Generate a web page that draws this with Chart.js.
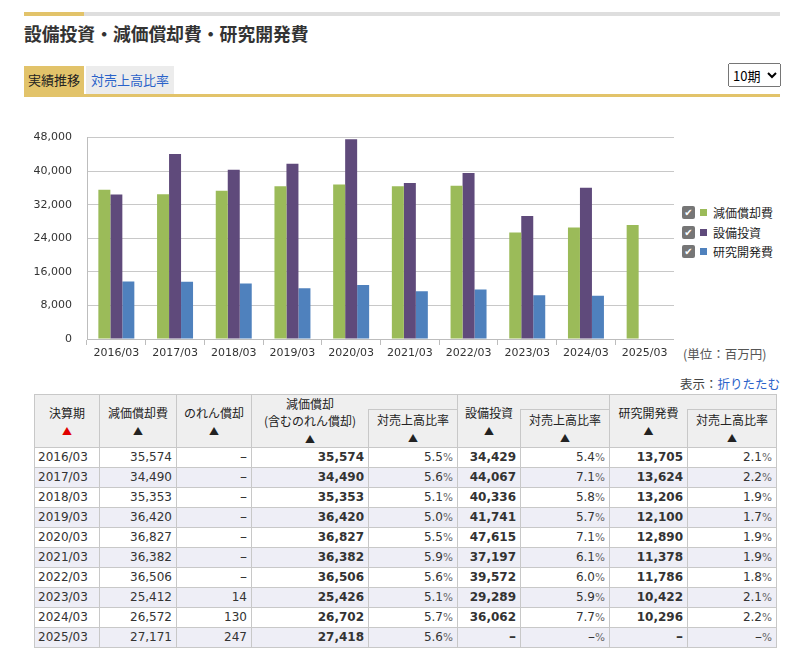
<!DOCTYPE html>
<html lang="ja">
<head>
<meta charset="utf-8">
<script src="https://cdn.jsdelivr.net/npm/chart.js@4"></script>
<style>
  html,body{margin:0;padding:0;background:#fff;}
  body{width:791px;height:655px;position:relative;overflow:hidden;font-family:"Noto Sans CJK JP","Noto Sans",sans-serif;color:#333;}
  .abs{position:absolute;}
  #topbar{left:24px;top:12px;width:756px;height:4px;background:#dedede;}
  #topbar i{position:absolute;left:0;top:0;width:60px;height:4px;background:#e2c36a;}
  #title{left:24px;top:20px;font-size:17.8px;font-weight:bold;color:#333;line-height:26px;}
  #tab1{left:24px;top:66px;width:60px;height:29px;background:#e2c36a;font-size:13px;line-height:27px;text-align:center;color:#222;}
  #tab2{left:86px;top:66px;width:88px;height:28px;background:#ececec;font-size:13px;line-height:27px;text-align:center;color:#2a62c9;}
  #tabline{left:24px;top:94px;width:756px;height:3px;background:#e2c36a;}
  #sel{left:728px;top:63px;width:53px;height:24px;font-size:13px;font-family:"Noto Sans CJK JP",sans-serif;}
  #chartbox{left:24px;top:116px;width:650px;height:245px;}
  #legend{left:682px;top:203px;font-size:12px;line-height:19.5px;color:#222;}
  #legend div{position:relative;height:19.5px;padding-left:31px;white-space:nowrap;}
  #legend .cb{position:absolute;left:0;top:3px;width:13px;height:13px;border-radius:2px;background:#767676;color:#fff;font-size:10px;line-height:13px;text-align:center;font-family:"DejaVu Sans",sans-serif;}
  #legend .sw{position:absolute;left:18px;top:6px;width:7px;height:7px;}
  #unit{left:683px;top:345px;font-size:12.5px;color:#555;line-height:18px;}
  #fold{right:11px;top:375px;font-size:12.5px;color:#444;line-height:18px;}
  #fold a{color:#2a62c9;text-decoration:none;}
  table{position:absolute;left:34px;top:394px;width:743px;border-collapse:collapse;table-layout:fixed;}
  td{border:1px solid #c8c8c8;padding:0;}
  thead td{background:#efefef;text-align:center;vertical-align:middle;font-size:12px;line-height:17px;color:#222;}
  thead tr.r1 td{height:14px;}
  thead tr.r2 td{height:37px;}
  thead .tri{font-size:10px;color:#222;}
  thead .red{color:#e00000;}
  thead td.nr{border-right:none;}
  thead td.nl{border-left:none;}
  tbody td{height:19px;line-height:19px;font-family:"DejaVu Sans",sans-serif;font-size:12px;color:#333;text-align:right;padding-right:4px;white-space:nowrap;overflow:hidden;}
  tbody td.y{text-align:left;padding-left:3px;padding-right:0;}
  tbody td.b{font-weight:bold;}
  tbody tr:nth-child(even) td{background:#eeeef6;}
  tbody .p{font-size:10.5px;color:#666;}
  tbody .d{font-size:14px;line-height:10px;}
</style>
</head>
<body>
<div id="topbar" class="abs"><i></i></div>
<div id="title" class="abs">設備投資・減価償却費・研究開発費</div>
<div id="tab1" class="abs">実績推移</div>
<div id="tab2" class="abs">対売上高比率</div>
<div id="tabline" class="abs"></div>
<select id="sel" class="abs"><option>10期</option></select>
<div id="chartbox" class="abs"><canvas id="c"></canvas></div>
<div id="legend" class="abs"></div>
<div id="unit" class="abs">(単位：百万円)</div>
<div id="fold" class="abs">表示：<a>折りたたむ</a></div>
<table id="tbl">
  <colgroup>
    <col style="width:65px"><col style="width:77px"><col style="width:75px"><col style="width:117px"><col style="width:89px"><col style="width:63px"><col style="width:89px"><col style="width:78px"><col style="width:89px">
  </colgroup>
  <thead>
    <tr class="r1">
      <td rowspan="2">決算期<br><span class="tri red">▲</span></td>
      <td rowspan="2">減価償却費<br><span class="tri">▲</span></td>
      <td rowspan="2">のれん償却<br><span class="tri">▲</span></td>
      <td rowspan="2" class="nr">減価償却<br>(含むのれん償却)<br><span class="tri">▲</span></td>
      <td class="nl"></td>
      <td rowspan="2" class="nr">設備投資<br><span class="tri">▲</span></td>
      <td class="nl"></td>
      <td rowspan="2" class="nr">研究開発費<br><span class="tri">▲</span></td>
      <td class="nl"></td>
    </tr>
    <tr class="r2">
      <td>対売上高比率<br><span class="tri">▲</span></td>
      <td>対売上高比率<br><span class="tri">▲</span></td>
      <td>対売上高比率<br><span class="tri">▲</span></td>
    </tr>
  </thead>
  <tbody id="tb"></tbody>
</table>
<script>
const periods = ["2016/03","2017/03","2018/03","2019/03","2020/03","2021/03","2022/03","2023/03","2024/03","2025/03"];
const depreciation = [35574,34490,35353,36420,36827,36382,36506,25412,26572,27171];
const goodwill = [null,null,null,null,null,null,null,14,130,247];
const depreciationTotal = [35574,34490,35353,36420,36827,36382,36506,25426,26702,27418];
const depreciationRatio = [5.5,5.6,5.1,5.0,5.5,5.9,5.6,5.1,5.7,5.6];
const capex = [34429,44067,40336,41741,47615,37197,39572,29289,36062,null];
const capexRatio = [5.4,7.1,5.8,5.7,7.1,6.1,6.0,5.9,7.7,null];
const rnd = [13705,13624,13206,12100,12890,11378,11786,10422,10296,null];
const rndRatio = [2.1,2.2,1.9,1.7,1.9,1.9,1.8,2.1,2.2,null];
const seriesNames = ["減価償却費","設備投資","研究開発費"];
const seriesColors = ["#9bbb59","#5f4a7b","#4f81bd"];
const yTicks = [0,8000,16000,24000,32000,40000,48000];

const dash = '<span class="d">–</span>';
const fmt = v => v == null ? dash : v.toLocaleString("en-US");
const pct = v => (v == null ? dash : v.toFixed(1)) + '<span class="p">%</span>';

const tb = document.getElementById("tb");
periods.forEach((p, i) => {
  const tr = document.createElement("tr");
  tr.innerHTML =
    `<td class="y">${p}</td>` +
    `<td>${fmt(depreciation[i])}</td>` +
    `<td>${fmt(goodwill[i])}</td>` +
    `<td class="b">${fmt(depreciationTotal[i])}</td>` +
    `<td>${pct(depreciationRatio[i])}</td>` +
    `<td class="b">${fmt(capex[i])}</td>` +
    `<td>${pct(capexRatio[i])}</td>` +
    `<td class="b">${fmt(rnd[i])}</td>` +
    `<td>${pct(rndRatio[i])}</td>`;
  tb.appendChild(tr);
});

const lg = document.getElementById("legend");
seriesNames.forEach((n, i) => {
  const d = document.createElement("div");
  d.innerHTML = `<span class="cb">✔</span><span class="sw" style="background:${seriesColors[i]}"></span>${n}`;
  lg.appendChild(d);
});

const seriesData = [depreciation, capex, rnd];
new Chart(document.getElementById("c"), {
  type: "bar",
  data: {
    labels: periods,
    datasets: seriesNames.map((n, i) => ({
      label: n,
      data: seriesData[i],
      backgroundColor: seriesColors[i],
      borderWidth: 0,
      categoryPercentage: 0.613,
      barPercentage: 1.0
    }))
  },
  options: {
    responsive: true,
    maintainAspectRatio: false,
    animation: false,
    layout: { padding: { top: 12, right: 0, bottom: 0, left: 0 } },
    plugins: { legend: { display: false }, tooltip: { enabled: false } },
    scales: {
      x: {
        grid: { drawOnChartArea: false, drawTicks: true, tickLength: 6, color: "#bdbdbd" },
        border: { color: "#bdbdbd" },
        ticks: { color: "#333", font: { family: "DejaVu Sans", size: 11 }, padding: 2, maxRotation: 0, autoSkip: false },
        afterFit: s => { s.height = 22; }
      },
      y: {
        min: 0, max: 48000,
        afterBuildTicks: s => { s.ticks = yTicks.map(v => ({ value: v })); },
        grid: { color: "#c8c8c8", drawTicks: false },
        border: { color: "#bdbdbd" },
        ticks: { color: "#333", font: { family: "DejaVu Sans", size: 11 }, padding: 15, callback: v => v.toLocaleString("en-US") },
        afterFit: s => { s.width = 63; }
      }
    }
  }
});
</script>
</body>
</html>
